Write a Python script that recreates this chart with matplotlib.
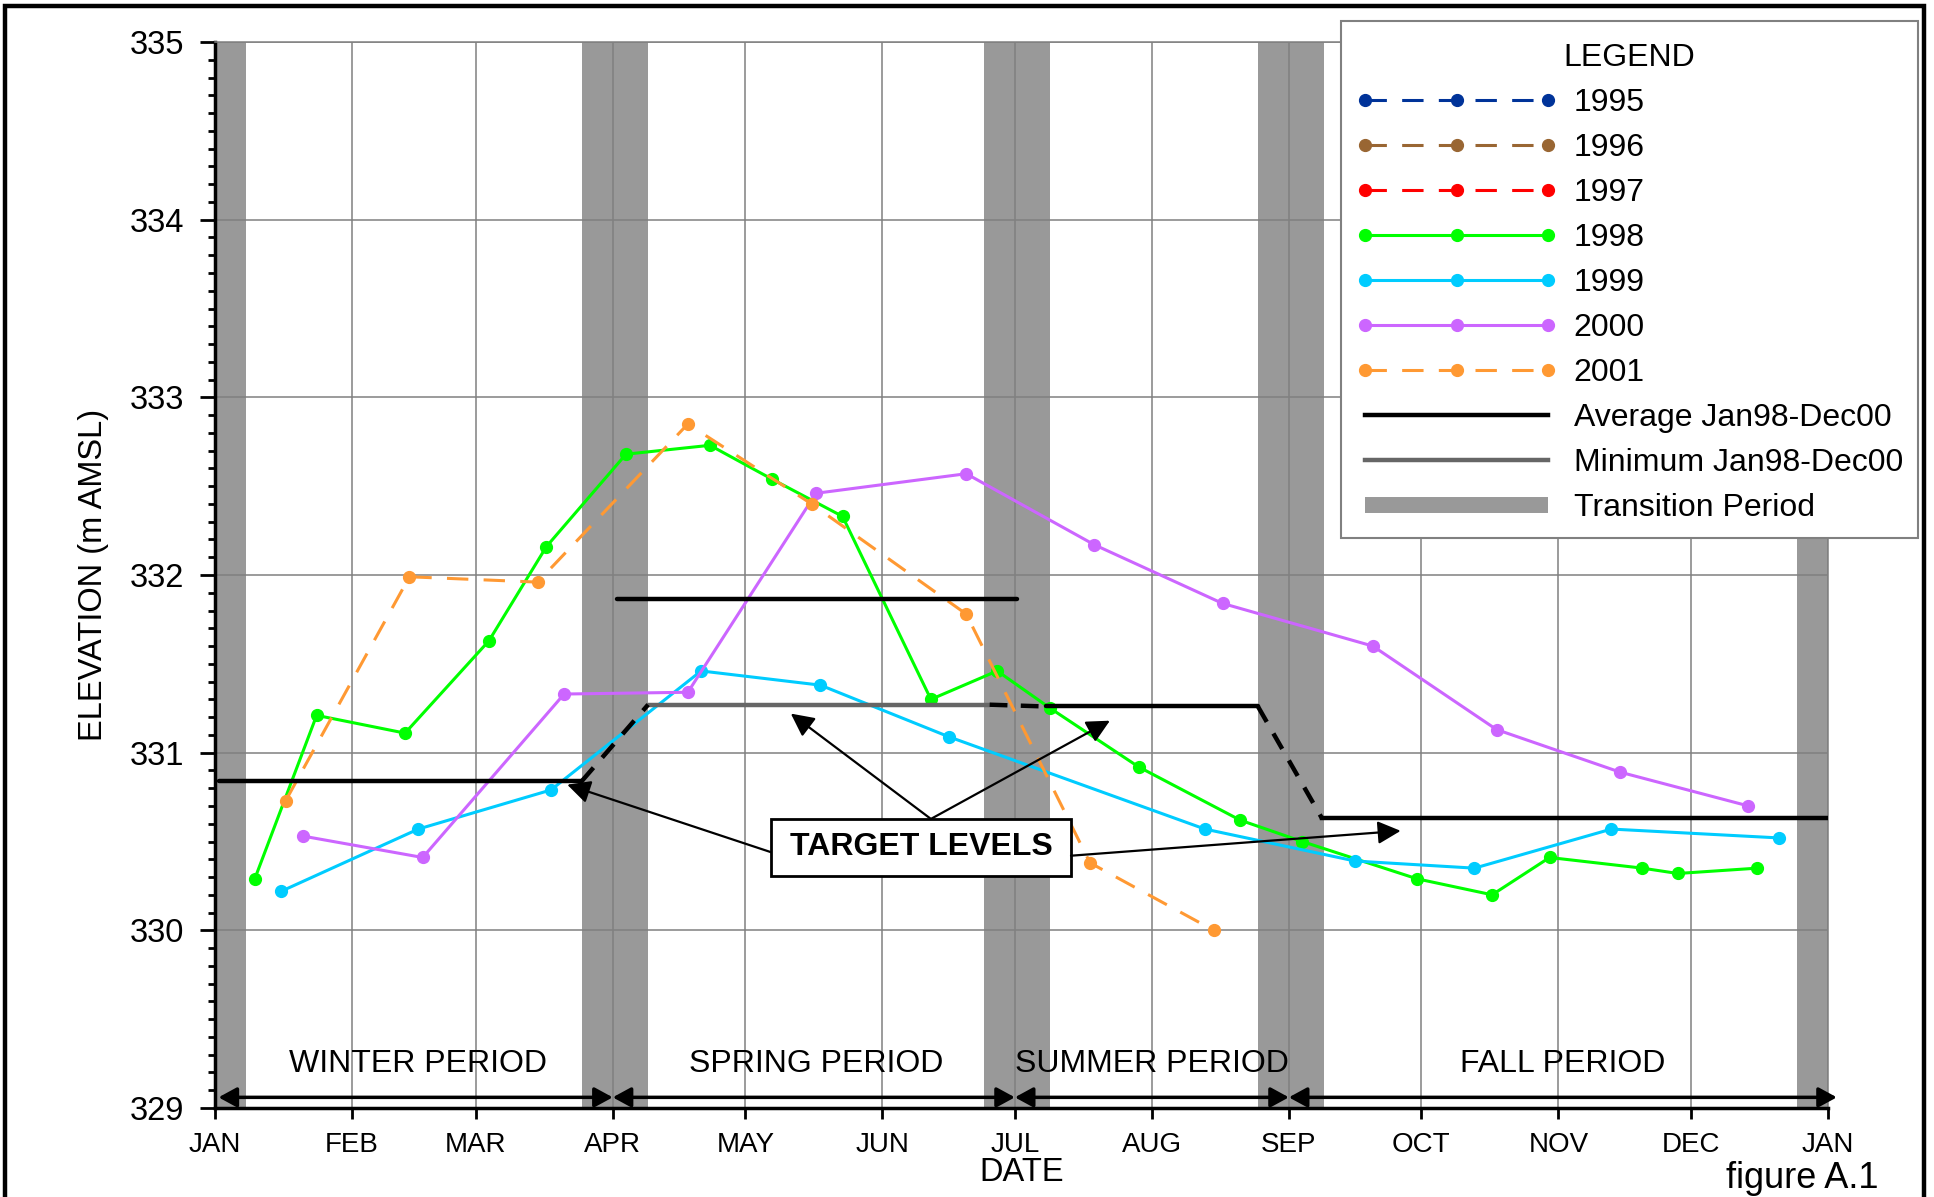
import matplotlib
matplotlib.use("Agg")
from matplotlib import pyplot as plt
from matplotlib.lines import Line2D
from matplotlib.patches import Rectangle
from matplotlib.offsetbox import DrawingArea, VPacker

plt.rcParams['font.family'] = ['Liberation Sans', 'DejaVu Sans']

# month ticks (day of year)
month_days = [0, 31, 59, 90, 120, 151, 181, 212, 243, 273, 304, 334, 365]
month_labels = ['JAN', 'FEB', 'MAR', 'APR', 'MAY', 'JUN', 'JUL', 'AUG',
                'SEP', 'OCT', 'NOV', 'DEC', 'JAN']

# reservoir level series (day of year, m AMSL)
days_1998 = [9, 23, 43, 62, 75, 93, 112, 126, 142, 162, 177, 189, 209, 232, 246,
             272, 289, 302, 323, 331, 349]
elev_1998 = [330.29, 331.21, 331.11, 331.63, 332.16, 332.68, 332.73, 332.54, 332.33,
             331.30, 331.46, 331.25, 330.92, 330.62, 330.50, 330.29, 330.20, 330.41,
             330.35, 330.32, 330.35]

days_1999 = [15, 46, 76, 110, 137, 166, 224, 258, 285, 316, 354]
elev_1999 = [330.22, 330.57, 330.79, 331.46, 331.38, 331.09, 330.57, 330.39, 330.35,
             330.57, 330.52]

days_2000 = [20, 47, 79, 107, 136, 170, 199, 228, 262, 290, 318, 347]
elev_2000 = [330.53, 330.41, 331.33, 331.34, 332.46, 332.57, 332.17, 331.84, 331.60,
             331.13, 330.89, 330.70]

days_2001 = [16, 44, 73, 107, 135, 170, 198, 226]
elev_2001 = [330.73, 331.99, 331.96, 332.85, 332.40, 331.78, 330.38, 330.00]

# no data shown for these years, legend only
days_1995, elev_1995 = [], []
days_1996, elev_1996 = [], []
days_1997, elev_1997 = [], []

# target levels
winter_avg = 330.84
spring_avg = 331.865
spring_min = 331.27
summer_lvl = 331.26
fall_avg = 330.63

# transition periods (day ranges)
transitions = [(0, 7), (83, 98), (174, 189), (236, 251), (358, 365)]

periods = ['WINTER PERIOD', 'SPRING PERIOD', 'SUMMER PERIOD', 'FALL PERIOD']
period_start = [0.8, 90, 181, 243]
period_end = [90, 181, 243, 367]
period_center = [46, 136, 212, 305]


fig = plt.figure(figsize=(19.34, 11.97), dpi=100)
fig.patch.set_facecolor('white')
ax = fig.add_axes([215 / 1934, 1 - 1108 / 1197, 1613 / 1934, 1066 / 1197])

# background bands
for a, b in transitions:
    ax.axvspan(a, b, color='#999999', lw=0, zorder=1)

ax.grid(True, which='major', color='#808080', linewidth=1.1)

# series
dash = (0, (7, 5))
styles = [
    ('1995', days_1995, elev_1995, '#003399', dash),
    ('1996', days_1996, elev_1996, '#996633', dash),
    ('1997', days_1997, elev_1997, '#ff0000', dash),
    ('1998', days_1998, elev_1998, '#00ff00', '-'),
    ('1999', days_1999, elev_1999, '#00ccff', '-'),
    ('2000', days_2000, elev_2000, '#cc66ff', '-'),
    ('2001', days_2001, elev_2001, '#ff9933', dash),
]
handles = []
for name, d, e, c, ls in styles:
    ln, = ax.plot(d, e, color=c, linestyle=ls, linewidth=2.2, marker='o',
                  markersize=8.5, label=name, zorder=3)
    handles.append(ln)

# target lines
tl = dict(color='black', linewidth=3.2, solid_capstyle='round', zorder=4)
ax.plot([1, 83], [winter_avg, winter_avg], **tl)
ax.plot([91, 181.4], [spring_avg, spring_avg], **tl)
ax.plot([188, 236], [summer_lvl, summer_lvl], **tl)
ax.plot([250.5, 365], [fall_avg, fall_avg], color='black', linewidth=3.2, zorder=4)
ax.plot([98, 175.3], [spring_min, spring_min], color='#666666', linewidth=3.2,
        solid_capstyle='round', zorder=4)
dl = dict(color='black', linewidth=3.2, linestyle=(0, (4, 3)), zorder=4)
ax.plot([83, 98], [winter_avg, spring_min], **dl)
ax.plot([175.3, 188], [spring_min, summer_lvl], **dl)
ax.plot([236, 250.5], [summer_lvl, fall_avg], **dl)

# period arrows + labels
for lab, s, e, c in zip(periods, period_start, period_end, period_center):
    ax.annotate('', xy=(e, 329.06), xytext=(s, 329.06), annotation_clip=False,
                arrowprops=dict(arrowstyle='<|-|>,head_length=0.55,head_width=0.3',
                                color='black', lw=2.5, mutation_scale=20,
                                shrinkA=0, shrinkB=0), zorder=5)
    ax.text(c, 329.25, lab, ha='center', va='center', fontsize=23, zorder=5)

# TARGET LEVELS box and arrows
ax.add_patch(Rectangle((125.8, 330.307), 67.9, 0.32, facecolor='white',
                       edgecolor='black', lw=2, zorder=6))
ax.text(159.8, 330.467, 'TARGET LEVELS', ha='center', va='center',
        fontsize=23, fontweight='bold', zorder=7)
arr = dict(arrowstyle='-|>,head_length=0.7,head_width=0.35', color='black',
           lw=1.6, mutation_scale=20, shrinkA=0, shrinkB=0)
ax.annotate('', xy=(79.7, 330.82), xytext=(125.8, 330.44), arrowprops=arr, zorder=6)
ax.annotate('', xy=(130.3, 331.22), xytext=(162, 330.627), arrowprops=arr, zorder=6)
ax.annotate('', xy=(202.5, 331.18), xytext=(162, 330.627), arrowprops=arr, zorder=6)
ax.annotate('', xy=(268.3, 330.56), xytext=(193.7, 330.42), arrowprops=arr, zorder=6)

# axes styling
ax.set_xlim(0, 365)
ax.set_ylim(329, 335)
ax.set_xticks(month_days)
ax.set_xticklabels(month_labels)
ax.set_yticks(range(329, 336))
ax.set_yticks([329 + i / 10 for i in range(61)], minor=True)
ax.tick_params(axis='y', which='major', length=11, width=2, labelsize=23.5, pad=11)
ax.tick_params(axis='y', which='minor', length=5, width=2)
ax.tick_params(axis='x', which='major', length=8, width=2, labelsize=20, pad=9)
ax.tick_params(axis='x', which='minor', bottom=False)
ax.spines['left'].set_linewidth(2.5)
ax.spines['bottom'].set_linewidth(2.5)
ax.spines['top'].set_color('#808080')
ax.spines['right'].set_color('#808080')
ax.spines['top'].set_linewidth(1.1)
ax.spines['right'].set_linewidth(1.1)

ax.set_ylabel('ELEVATION (m AMSL)', fontsize=23.5)
ax.yaxis.set_label_coords(-0.066, 0.5)
ax.set_xlabel('DATE', fontsize=23.5)
ax.xaxis.set_label_coords(0.5, -0.046)

# legend
handles.append(Line2D([], [], color='black', linewidth=3.2))
handles.append(Line2D([], [], color='#666666', linewidth=3.2))
handles.append(Line2D([], [], color='#999999', linewidth=11.5, solid_capstyle='butt'))
labels = ['1995', '1996', '1997', '1998', '1999', '2000', '2001',
          'Average Jan98-Dec00', 'Minimum Jan98-Dec00', 'Transition Period']
leg = fig.legend(handles, labels, loc='upper right',
                 bbox_to_anchor=(1918 / 1934, 1 - 21 / 1197),
                 bbox_transform=fig.transFigure, borderaxespad=0,
                 title='LEGEND', title_fontsize=23, fontsize=23, numpoints=3,
                 handlelength=6.33, handletextpad=0.5, borderpad=0.47,
                 labelspacing=0.47, fancybox=False, framealpha=1,
                 edgecolor='#808080')
leg.get_frame().set_linewidth(1.5)
# a bit more room above the legend title
leg._legend_box._children[0] = VPacker(
    children=[DrawingArea(1, 5), leg._legend_title_box], pad=0, sep=0,
    align='center')

# outer border and figure caption
fig.add_artist(Rectangle((4.5 / 1934, -0.02), 1919 / 1934, 1.02 - 6 / 1197,
                         transform=fig.transFigure, fill=False,
                         edgecolor='black', lw=3.2))
fig.text(1878 / 1934, 1 - 1188 / 1197, 'figure A.1', ha='right',
         va='baseline', fontsize=26)

fig.savefig('out.png', dpi=100)
